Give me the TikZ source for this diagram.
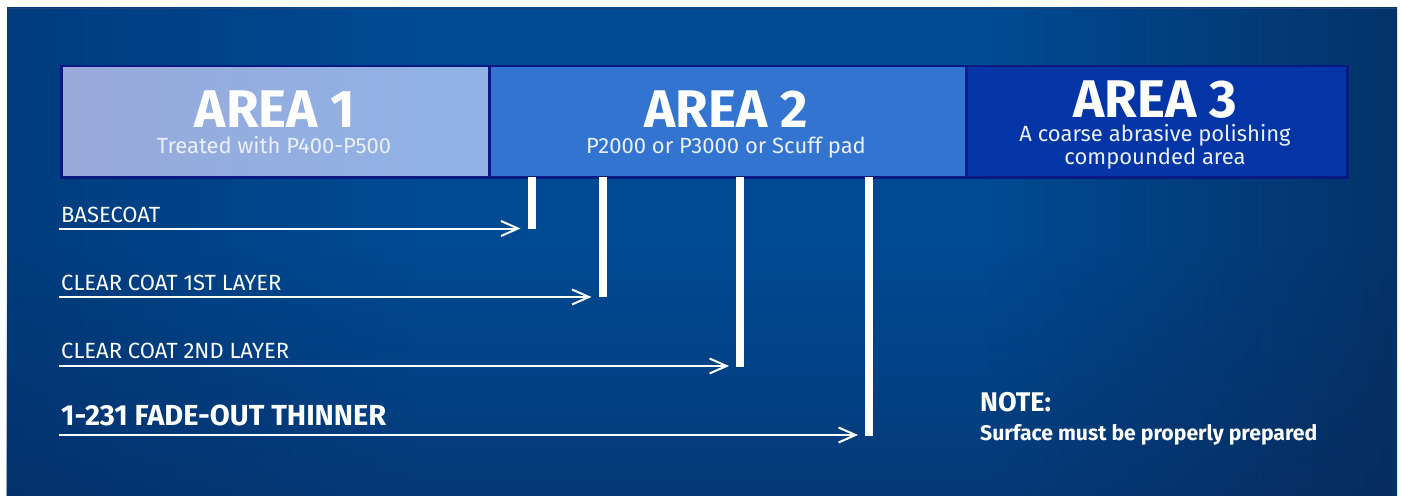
\documentclass[tikz,border=0pt]{standalone}
\usepackage{fontspec}
\setmainfont{Fira Sans}
\usetikzlibrary{arrows.meta,fadings}
\definecolor{bgmid}{HTML}{004A93}
\definecolor{bgq}{HTML}{003B7C}
\definecolor{bgr}{HTML}{043166}
\definecolor{bgout}{HTML}{0B2454}
\definecolor{bgedge}{HTML}{1E427E}
\definecolor{boxborder}{HTML}{0A1A80}
\definecolor{aoneL}{HTML}{98A9DA}
\definecolor{aoneR}{HTML}{8FB3E6}
\definecolor{atwo}{HTML}{3274CF}
\definecolor{athree}{HTML}{0335A6}
\definecolor{subtext}{HTML}{EAF0FA}
\pgfdeclarehorizontalshading{bgshade}{100bp}{color(0bp)=(bgout); color(5bp)=(bgout); color(24bp)=(bgq); color(40bp)=(bgmid); color(60bp)=(bgmid); color(76bp)=(bgr); color(92bp)=(bgout); color(100bp)=(bgout)}
\tikzset{
  x=1pt, y=-1pt,
  areabox/.style={draw=boxborder, line width=2.5pt, anchor=north west, minimum height=111pt, inner sep=0pt},
  bar/.style={fill=white, draw=none, anchor=north west, minimum width=8pt, inner sep=0pt},
  lbl/.style={anchor=base west, inner sep=0pt, text=white, font=\fontsize{22}{25}\selectfont},
  conn/.style={draw=white, line width=2pt, -{Straight Barb[length=17pt, width=15pt, line width=2pt]}, shorten >=7pt},
  title/.style={text=white, font=\bfseries\fontsize{53}{56}\selectfont, anchor=base, inner sep=0pt, text depth=0pt},
  sub/.style={text=subtext, font=\fontsize{22}{24}\selectfont, anchor=base, inner sep=0pt, align=center, text height=12pt}
}
\begin{document}
\begin{tikzpicture}
\useasboundingbox (0,0) rectangle (1402,495);
\fill[white] (0,0) rectangle (1402,495);
\shade[shading=bgshade] (7,8) rectangle (1397,540);
\fill[bgout, fill opacity=0.5, path fading=north] (7,250) rectangle (1397,540);
\draw[bgedge, line width=1pt] (7,8.5) -- (1397,8.5);
% boxes
\node[areabox, minimum width=428pt, left color=aoneL, right color=aoneR] (b1) at (60,65) {};
\node[areabox, minimum width=477pt, fill=atwo] (b2) at (488,65) {};
\node[areabox, minimum width=381pt, fill=athree] (b3) at (965,65) {};
% titles
\node[title] (t1) at (275,127.5) {AREA 1};
\node[sub] (s1) at (274,153.5) {Treated with P400-P500};
\node[title] (t2) at (726,127) {AREA 2};
\node[sub] (s2) at (726,153.5) {P2000 or P3000 or Scuff pad};
\node[title] (t3) at (1155,117) {AREA 3};
\node[sub] (s3a) at (1155,141.5) {A coarse abrasive polishing};
\node[sub] (s3b) at (1155,164.5) {compounded area};
% bars
\node[bar, minimum height=52pt] (v1) at (527.5,177) {};
\node[bar, minimum height=120pt] (v2) at (598.5,177) {};
\node[bar, minimum height=190pt] (v3) at (736,177) {};
\node[bar, minimum height=259pt] (v4) at (865,177) {};
% labels
\node[lbl] (l1) at (61,222) {BASECOAT};
\node[lbl] (l2) at (61,290.5) {CLEAR COAT 1ST LAYER};
\node[lbl] (l3) at (61,358.5) {CLEAR COAT 2ND LAYER};
\node[lbl, font=\bfseries\fontsize{29}{32}\selectfont] (l4) at (61,425) {1-231 FADE-OUT THINNER};
% start points
\coordinate (p1) at (59,228.5);
\coordinate (p2) at (59,297);
\coordinate (p3) at (59,366);
\coordinate (p4) at (59,435);
\draw[conn] (p1) -- (p1 -| v1.west);
\draw[conn] (p2) -- (p2 -| v2.west);
\draw[conn] (p3) -- (p3 -| v3.west);
\draw[conn] (p4) -- (p4 -| v4.west);
% note
\node[lbl, font=\bfseries\fontsize{27}{30}\selectfont] (n1) at (980,411) {NOTE:};
\node[lbl, font=\bfseries\fontsize{21.2}{24}\selectfont] (n2) at (980,440) {Surface must be properly prepared};
\end{tikzpicture}
\end{document}
